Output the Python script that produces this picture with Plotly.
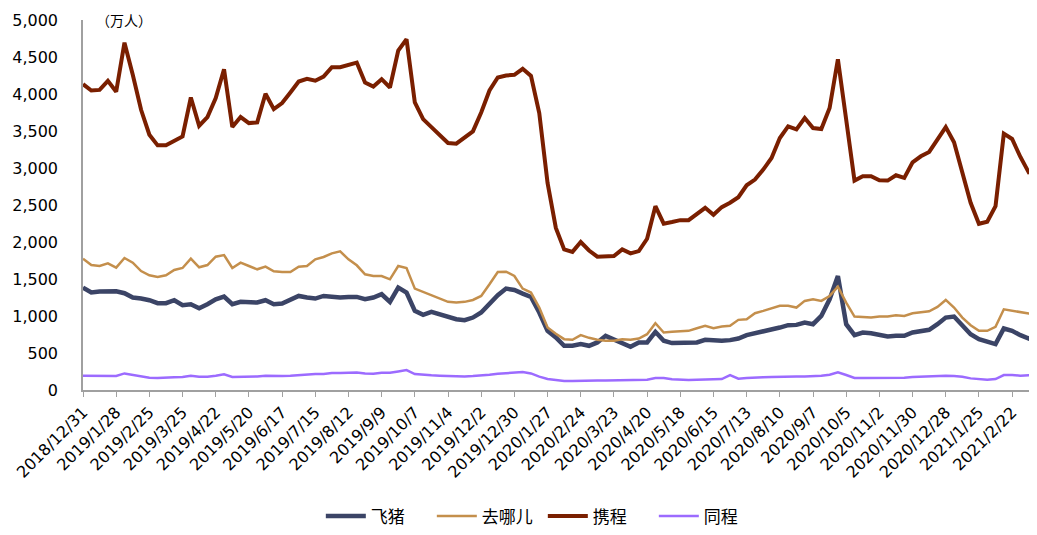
import pandas as pd
import plotly.graph_objects as go

# Weekly dates (categories)
dates = pd.date_range("2018-12-31", periods=116, freq="7D")
date_labels = [f"{d.year}/{d.month}/{d.day}" for d in dates]

series_names = ["飞猪", "去哪儿", "携程", "同程"]

feizhu = [1384, 1317, 1330, 1326, 1335, 1308, 1249, 1236, 1213, 1173,
          1173, 1213, 1146, 1159, 1105, 1159, 1226, 1263, 1159, 1191,
          1191, 1182, 1213, 1159, 1168, 1226, 1271, 1249, 1236, 1271,
          1258, 1249, 1258, 1258, 1226, 1249, 1294, 1191, 1384, 1317,
          1069, 1015, 1055, 1024, 1001, 957, 943, 979, 1047, 1168,
          1280, 1370, 1352, 1303, 1258, 1047, 799, 710, 597, 597,
          620, 597, 643, 732, 687, 629, 584, 643, 643, 786,
          665, 634, 634, 629, 643, 678, 665, 665, 674, 696,
          741, 763, 790, 813, 844, 876, 880, 912, 889, 1001,
          1226, 1540, 889, 741, 777, 768, 741, 723, 732, 732,
          777, 799, 813, 889, 979, 993, 876, 754, 687, 656,
          620, 831, 799, 741, 696, 754]

qunar = [1775, 1689, 1676, 1712, 1653, 1784, 1721, 1608, 1550, 1527,
         1550, 1622, 1649, 1775, 1658, 1689, 1802, 1824, 1649, 1721,
         1676, 1631, 1667, 1604, 1595, 1595, 1667, 1676, 1766, 1797,
         1846, 1873, 1766, 1685, 1563, 1541, 1541, 1496, 1676, 1649,
         1370, 1326, 1285, 1236, 1191, 1182, 1191, 1217, 1271, 1429,
         1595, 1599, 1541, 1370, 1317, 1114, 845, 760, 687, 678,
         741, 705, 678, 665, 665, 687, 678, 696, 754, 903,
         777, 786, 790, 799, 835, 867, 835, 858, 867, 948,
         957, 1038, 1069, 1105, 1137, 1137, 1114, 1204, 1226, 1204,
         1271, 1397, 1182, 993, 988, 979, 993, 993, 1011, 1001,
         1038, 1055, 1064, 1123, 1217, 1114, 979, 876, 799, 799,
         853, 1091, 1069, 1047, 1033, 1055]

xiecheng = [4133, 4047, 4055, 4178, 4030, 4694, 4259, 3787, 3450, 3306,
            3306, 3360, 3427, 3953, 3571, 3688, 3944, 4335, 3553, 3688,
            3607, 3616, 4003, 3796, 3877, 4020, 4169, 4205, 4180, 4236,
            4363, 4363, 4394, 4425, 4155, 4101, 4200, 4088, 4586, 4740,
            3886, 3661, 3553, 3437, 3338, 3329, 3405, 3495, 3751, 4047,
            4223, 4250, 4259, 4340, 4245, 3742, 2799, 2190, 1900, 1867,
            1999, 1885, 1802, 1810, 1810, 1900, 1846, 1877, 2044, 2484,
            2248, 2270, 2295, 2295, 2372, 2462, 2368, 2471, 2530, 2605,
            2767, 2844, 2978, 3136, 3405, 3562, 3522, 3675, 3540, 3527,
            3810, 4470, 3652, 2830, 2888, 2888, 2834, 2830, 2902, 2866,
            3077, 3158, 3217, 3383, 3553, 3347, 2956, 2530, 2246, 2273,
            2484, 3464, 3392, 3149, 2942, 2965]

tongcheng = [193, 190, 190, 193, 190, 224, 202, 180, 166, 162,
             162, 171, 175, 193, 180, 180, 193, 211, 175, 175,
             175, 184, 193, 189, 189, 193, 202, 207, 216, 216,
             229, 229, 238, 238, 224, 220, 233, 233, 251, 269,
             216, 202, 198, 193, 189, 184, 184, 189, 193, 207,
             220, 229, 233, 242, 224, 180, 148, 135, 121, 121,
             126, 130, 130, 130, 130, 130, 135, 135, 139, 162,
             162, 144, 135, 135, 139, 144, 144, 148, 202, 153,
             162, 162, 171, 175, 180, 184, 184, 184, 184, 193,
             207, 238, 202, 162, 162, 162, 162, 166, 166, 166,
             175, 180, 184, 189, 193, 189, 180, 157, 144, 139,
             148, 202, 202, 193, 198, 202]

y_ticks = list(range(0, 5001, 500))
unit_label = "（万人）"

colors = ["#3b4466", "#c48f4c", "#7a1f00", "#9c6bff"]
widths = [4.5, 2.5, 4, 2.5]
values = [feizhu, qunar, xiecheng, tongcheng]

x_idx = list(range(len(date_labels)))

fig = go.Figure()
for name, vals, c, w in zip(series_names, values, colors, widths):
    fig.add_trace(go.Scatter(
        x=x_idx, y=vals, mode="lines", name=name,
        line=dict(color=c, width=w),
        hovertext=date_labels,
    ))

tick_positions = x_idx[::4]
tick_texts = date_labels[::4]

fig.update_layout(
    width=1037, height=535,
    margin=dict(l=75, r=8, t=12, b=144),
    paper_bgcolor="white", plot_bgcolor="white",
    font=dict(family="DejaVu Sans, Noto Sans CJK SC", color="#000000"),
    showlegend=True,
    legend=dict(orientation="h", x=0.482, xanchor="center", y=-0.342, yanchor="middle",
                font=dict(size=17, family="Noto Sans CJK SC"),
                itemwidth=40, entrywidth=56, entrywidthmode="pixels"),
    xaxis=dict(
        range=[0, len(x_idx) - 1], automargin=False,
        tickmode="array", tickvals=tick_positions, ticktext=tick_texts,
        tickangle=-45, tickfont=dict(size=16, family="DejaVu Sans"),
        ticks="outside", ticklen=5, tickcolor="#a0a0a0",
        showline=True, linecolor="#a0a0a0", linewidth=1.5,
        showgrid=False, zeroline=False,
    ),
    yaxis=dict(
        range=[0, 5000], automargin=False, tickmode="array", tickvals=y_ticks,
        ticktext=[f"{v:,}" for v in y_ticks],
        tickfont=dict(size=16, family="DejaVu Sans"),
        ticklabelstandoff=20,
        showline=True, linecolor="#a0a0a0", linewidth=1.5,
        showgrid=False, zeroline=False, ticks="",
    ),
    annotations=[dict(
        text=unit_label, xref="paper", yref="paper", x=0.012, y=1.0,
        xanchor="left", yanchor="middle", showarrow=False,
        font=dict(size=14, family="Noto Sans CJK SC"),
    )],
)

fig.write_html("out.html")
